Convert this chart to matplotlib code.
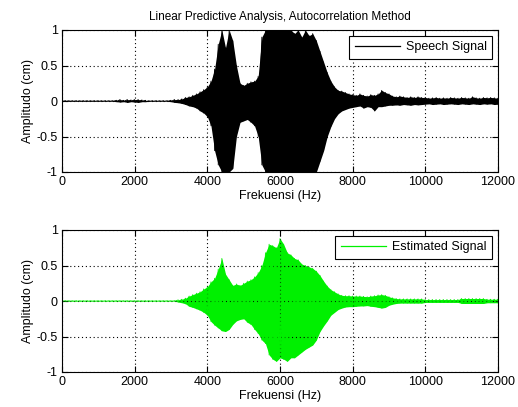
import numpy as np
import matplotlib
matplotlib.use('Agg')
import matplotlib.pyplot as plt
from matplotlib.lines import Line2D

plt.rcParams['font.family'] = ['Liberation Sans', 'DejaVu Sans']

# frequency axis, one reading every 100 Hz (0 .. 12000)
freq = np.arange(0, 12001, 100)

# speech signal, upper / lower envelope
speech_hi = [0.005] * 15 + [0.01, 0.02, 0.01, 0.02, 0.015, 0.02, 0.02, 0.015, 0.01] + [0.005] * 6 + \
    [0.01, 0.02, 0.02, 0.03, 0.05, 0.06, 0.08, 0.10, 0.13, 0.16,
     0.20, 0.28, 0.45, 0.80, 1.0, 0.75, 1.0, 0.85, 0.5, 0.25,
     0.22, 0.25, 0.27, 0.28, 0.35, 0.9] + [1.0] * 8 + \
    [0.95, 1.0, 0.9, 1.0, 0.92, 0.95, 0.85, 0.7, 0.55, 0.4,
     0.28, 0.2, 0.15, 0.14, 0.12, 0.1, 0.09, 0.08, 0.1, 0.08,
     0.07, 0.09, 0.08, 0.1, 0.15, 0.12, 0.1, 0.07, 0.06, 0.07,
     0.06, 0.05, 0.06, 0.05, 0.06, 0.05,
     0.05, 0.04, 0.045, 0.05, 0.04, 0.045, 0.04, 0.05, 0.045, 0.04,
     0.05, 0.045, 0.04, 0.06, 0.045, 0.04, 0.05, 0.045, 0.05, 0.045, 0.04]
speech_lo = [-0.005] * 15 + [-0.01, -0.015, -0.01, -0.02, -0.01, -0.015, -0.02, -0.01, -0.01] + [-0.005] * 6 + \
    [-0.01, -0.02, -0.025, -0.035, -0.05, -0.07, -0.08, -0.10, -0.14, -0.17,
     -0.22, -0.35, -0.7, -0.9, -1.0, -1.0, -1.0, -0.95, -0.5, -0.3,
     -0.28, -0.26, -0.3, -0.35, -0.5, -0.9] + [-1.0] * 15 + \
    [-0.85, -0.7, -0.5, -0.36, -0.25, -0.18, -0.14, -0.12, -0.1, -0.09,
     -0.08, -0.07, -0.1, -0.08, -0.09, -0.14, -0.08, -0.08, -0.07, -0.06,
     -0.06, -0.055, -0.06, -0.05, -0.055, -0.06, -0.05, -0.055, -0.05,
     -0.045, -0.04, -0.05, -0.045, -0.04, -0.05, -0.045, -0.04, -0.045, -0.05,
     -0.04, -0.045, -0.05, -0.04, -0.045, -0.05, -0.04, -0.045, -0.04, -0.05, -0.045]

# estimated (LPC) signal envelope
est_hi = [0.003] * 32 + \
    [0.015, 0.025, 0.04, 0.07, 0.09, 0.11, 0.13, 0.17, 0.2, 0.27,
     0.32, 0.45, 0.6, 0.38, 0.3, 0.22, 0.24, 0.22, 0.25, 0.28,
     0.3, 0.34, 0.4, 0.5, 0.68, 0.8, 0.78, 0.75, 0.88, 0.8,
     0.68, 0.65, 0.6, 0.58, 0.52, 0.5, 0.48, 0.46, 0.42, 0.36,
     0.28, 0.21, 0.16, 0.13, 0.1, 0.08, 0.075, 0.075, 0.07, 0.07,
     0.07, 0.065, 0.06, 0.07, 0.075, 0.085, 0.09, 0.08, 0.06, 0.045,
     0.035] + [0.03] * 7 + [0.02] * 10 + [0.035] * 7 + [0.025] * 4
est_lo = [-0.003] * 32 + \
    [-0.015, -0.025, -0.04, -0.075, -0.09, -0.11, -0.13, -0.16, -0.2, -0.29,
     -0.34, -0.38, -0.42, -0.43, -0.4, -0.33, -0.28, -0.26, -0.25, -0.3,
     -0.33, -0.4, -0.46, -0.55, -0.6, -0.76, -0.82, -0.85, -0.8, -0.82,
     -0.85, -0.8, -0.8, -0.76, -0.72, -0.68, -0.65, -0.62, -0.55, -0.43,
     -0.35, -0.28, -0.2, -0.16, -0.12, -0.1, -0.085, -0.08, -0.08, -0.075,
     -0.07, -0.07, -0.065, -0.075, -0.08, -0.09, -0.1, -0.09, -0.06, -0.045,
     -0.035] + [-0.03] * 7 + [-0.02] * 10 + [-0.035] * 7 + [-0.025] * 4

xticks = [0, 2000, 4000, 6000, 8000, 10000, 12000]
yticks = [-1, -0.5, 0, 0.5, 1]
green = '#00f000'


def draw(ax, hi, lo, color, label):
    hi = np.array(hi)
    lo = np.array(lo)
    ax.fill_between(freq, lo, hi, color=color, lw=0)
    # zigzag through the peaks so it looks like a waveform
    ax.plot(np.repeat(freq, 2), np.column_stack([hi, lo]).ravel(), color=color, lw=0.6)
    ax.set_xlim(0, 12000)
    ax.set_ylim(-1, 1)
    ax.set_xticks(xticks)
    ax.set_yticks(yticks)
    ax.set_yticklabels(['-1', '-0.5', '0', '0.5', '1'])
    ax.grid(True, linestyle=(0, (1, 2.5)), color='k', lw=0.8)
    ax.tick_params(direction='in', top=True, right=True, labelsize=9, length=4, pad=3)
    for s in ax.spines.values():
        s.set_linewidth(0.8)
    ax.set_xlabel('Frekuensi (Hz)', fontsize=9, labelpad=1)
    ax.set_ylabel('Amplitudo (cm)', fontsize=9, labelpad=2)
    h = Line2D([], [], color=color, lw=0.9)
    leg = ax.legend([h], [label], loc='upper right', fontsize=9, fancybox=False,
                    framealpha=1, edgecolor='k', handlelength=3.6, borderpad=0.45,
                    borderaxespad=0.45, handletextpad=0.5)
    leg.get_frame().set_linewidth(0.8)


fig = plt.figure(figsize=(5.18, 4.07), dpi=100)
ax1 = fig.add_axes([62 / 518, 1 - 172 / 407, 436 / 518, 142 / 407])
ax2 = fig.add_axes([62 / 518, 1 - 372 / 407, 436 / 518, 142 / 407])

draw(ax1, speech_hi, speech_lo, 'k', 'Speech Signal')
draw(ax2, est_hi, est_lo, green, 'Estimated Signal')
ax1.set_title('Linear Predictive Analysis, Autocorrelation Method', fontsize=8.5, pad=7)

fig.savefig('out.png', dpi=100)
